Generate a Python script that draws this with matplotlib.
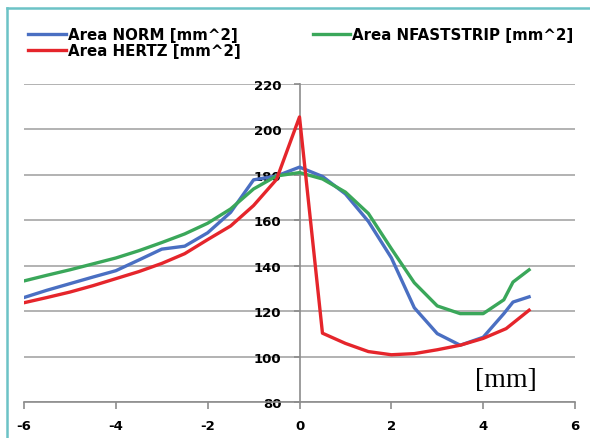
import matplotlib
matplotlib.use("Agg")
import matplotlib.pyplot as plt
from matplotlib.lines import Line2D

plt.rcParams["axes.unicode_minus"] = False

# dane (x w mm, pole w mm^2)
x_norm = [-6, -5.5, -5, -4.5, -4, -3.5, -3, -2.5, -2, -1.5, -1, -0.5, 0,
          0.5, 1, 1.5, 2, 2.5, 3, 3.5, 4, 4.45, 4.65, 5]
area_norm = [126, 129.2, 132.1, 135, 137.8, 142.5, 147.3, 148.6, 154.5, 163.5, 177.8, 179.5, 183.4,
             179.3, 171.6, 159.5, 143.5, 121.5, 110.1, 105, 108.5, 118.9, 124, 126.3]

x_hertz = [-6, -5.5, -5, -4.5, -4, -3.5, -3, -2.5, -2, -1.5, -1, -0.5, 0,
           0.5, 1, 1.5, 2, 2.5, 3, 3.5, 4, 4.5, 5]
area_hertz = [123.7, 126, 128.4, 131.2, 134.3, 137.4, 141, 145.3, 151.5, 157.5, 166.5, 178, 205.5,
              110.3, 105.8, 102.2, 100.8, 101.3, 103, 105, 108, 112.3, 120.4]

x_nfast = [-6, -5.5, -5, -4.5, -4, -3.5, -3, -2.5, -2, -1.5, -1, -0.5, 0,
           0.5, 1, 1.5, 2, 2.5, 3, 3.5, 4, 4.45, 4.65, 5]
area_nfast = [133.3, 135.8, 138.2, 140.8, 143.4, 146.6, 150.2, 154, 158.7, 165, 173.8, 179.5, 181,
              178.2, 172.4, 163, 147.5, 132.5, 122.3, 118.9, 118.9, 125, 132.8, 138.2]

x_ticks = [-6, -4, -2, 0, 2, 4, 6]
y_ticks = [80, 100, 120, 140, 160, 180, 200, 220]

labels = ["Area NORM [mm^2]", "Area HERTZ [mm^2]", "Area NFASTSTRIP [mm^2]"]

W, H = 590, 439
fig = plt.figure(figsize=(W / 100, H / 100), dpi=100)
ax = fig.add_axes([24 / W, 1 - 403 / H, (575 - 24) / W, (403 - 85) / H])

grid_col = "#a5a5a5"
l_norm, = ax.plot(x_norm, area_norm, color="#4a6fc2", lw=2.4, zorder=3)
l_nfast, = ax.plot(x_nfast, area_nfast, color="#3aa75a", lw=2.4, zorder=3)
l_hertz, = ax.plot(x_hertz, area_hertz, color="#e5252b", lw=2.4, zorder=4)

ax.set_xlim(-6, 6)
ax.set_ylim(80, 220)
ax.set_xticks(x_ticks)
ax.set_yticks(y_ticks)
ax.yaxis.grid(True, color=grid_col, lw=1.2)
ax.set_axisbelow(True)

# osie: pionowa w x=0, pozioma na dole
for s in ["top", "right"]:
    ax.spines[s].set_visible(False)
ax.spines["left"].set_position(("data", 0))
ax.spines["left"].set_color("#8c8c8c")
ax.spines["bottom"].set_color("#8c8c8c")
ax.spines["left"].set_linewidth(1.2)
ax.spines["bottom"].set_linewidth(1.2)
ax.tick_params(axis="x", direction="out", length=5, width=1.2, color="#8c8c8c", pad=7)
ax.tick_params(axis="y", direction="out", length=4, width=1.2, color="#8c8c8c", pad=9)
for t in ax.get_xticklabels() + ax.get_yticklabels():
    t.set_fontweight("bold")
    t.set_fontsize(9.5)

ax.text(4.5, 90, "[mm]", fontsize=20, family="Liberation Serif", ha="center", va="center")

leg = ax.legend([l_norm, l_hertz, l_nfast], labels, ncol=2, loc="upper left",
                bbox_to_anchor=(28 / W, 1 - 28 / H), bbox_transform=fig.transFigure,
                frameon=False, borderaxespad=0, borderpad=0, handlelength=2.5,
                handletextpad=0.15, labelspacing=0.05, columnspacing=4.8,
                prop={"weight": "bold", "size": 10.8})

# turkusowa ramka (lewa i górna krawędź)
border = "#6cc3c6"
fig.add_artist(Line2D([6.5 / W, 6.5 / W], [0, 1 - 9 / H], color=border, lw=1.8, transform=fig.transFigure))
fig.add_artist(Line2D([6.5 / W, 1], [1 - 9 / H, 1 - 9 / H], color=border, lw=1.8, transform=fig.transFigure))

fig.savefig("out.png", dpi=100)
